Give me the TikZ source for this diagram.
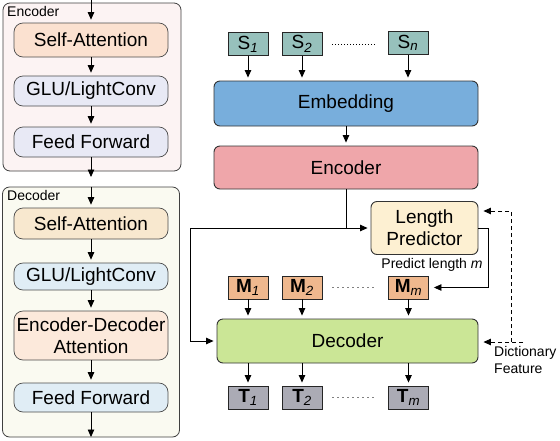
\documentclass[tikz,border=0pt]{standalone}
\usepackage{fontspec}
\setmainfont{Liberation Sans}
\usetikzlibrary{arrows.meta}

\definecolor{encbg}{HTML}{FCF3F3}
\definecolor{decbg}{HTML}{FAFAF1}
\definecolor{peach}{HTML}{FBE1D0}
\definecolor{lavender}{HTML}{E8E9F5}
\definecolor{tan}{HTML}{F8E8CF}
\definecolor{skyblue}{HTML}{E0EDF5}
\definecolor{rosepeach}{HTML}{FCE9DB}
\definecolor{srcfill}{HTML}{97C1BC}
\definecolor{embfill}{HTML}{78AEDC}
\definecolor{encfill}{HTML}{EFA6AA}
\definecolor{lpfill}{HTML}{FDF0D2}
\definecolor{maskfill}{HTML}{EFB88E}
\definecolor{decfill}{HTML}{CBE696}
\definecolor{tgtfill}{HTML}{ABABB5}

\begin{document}
\begin{tikzpicture}[x=1pt, y=-1pt,
  >={Triangle[length=7.5pt,width=6.5pt]},
  panel/.style={draw=black!75, rounded corners=7pt, line width=0.8pt},
  sub/.style={draw=black!70, rounded corners=9pt, line width=0.7pt, minimum width=154pt,
    inner sep=0pt, font=\fontsize{19}{22}\selectfont, align=center},
  blk/.style={draw=black!80, rounded corners=6pt, line width=0.9pt, inner sep=0pt,
    font=\fontsize{19}{22}\selectfont, align=center},
  tok/.style={draw=black!85, line width=0.9pt, minimum width=40pt, minimum height=23pt,
    inner sep=0pt, font=\fontsize{19}{21}\selectfont},
  lbl/.style={font=\fontsize{14}{17}\selectfont, inner sep=0pt, align=left},
  flow/.style={->, line width=0.8pt, shorten >=3pt}]
  \useasboundingbox (0,0) rectangle (560,440);

  % Encoder stack
  \node[panel, fill=encbg, minimum width=178pt, minimum height=168pt] (encpanel) at (92,87) {};
  \node[lbl, anchor=north west] (enclbl) at (7,6) {Encoder};
  \node[sub, fill=peach, minimum height=34pt] (eSA) at (91,40) {Self-Attention};
  \node[sub, fill=lavender, minimum height=30pt] (eGLU) at (91,91) {GLU/LightConv};
  \node[sub, fill=lavender, minimum height=30pt] (eFF) at (91,142) {Feed Forward};

  % Decoder stack
  \node[panel, fill=decbg, minimum width=177pt, minimum height=250pt] (decpanel) at (91,312) {};
  \node[lbl, anchor=north west] (declbl) at (7,190) {Decoder};
  \node[sub, fill=tan, minimum height=31pt] (dSA) at (91,223.5) {Self-Attention};
  \node[sub, fill=skyblue, minimum height=27pt] (dGLU) at (91,276.5) {GLU/LightConv};
  \node[sub, fill=rosepeach, minimum height=49pt] (dEDA) at (91,335.5) {Encoder-Decoder\\Attention};
  \node[sub, fill=skyblue, minimum height=29pt] (dFF) at (91,397.5) {Feed Forward};

  \coordinate (ein) at (91,0);
  \coordinate (ehand) at (91,177);
  \coordinate (dout) at (91,437);
  \draw[flow] (ein) -- (eSA);
  \draw[flow] (eSA) -- (eGLU);
  \draw[flow] (eGLU) -- (eFF);
  \draw[flow, shorten >=0pt] (eFF) -- (ehand);
  \draw[flow] (decpanel.north) -- (dSA);
  \draw[flow] (dSA) -- (dGLU);
  \draw[flow] (dGLU) -- (dEDA);
  \draw[flow] (dEDA) -- (dFF);
  \draw[flow, shorten >=0pt] (dFF) -- (dout);

  % Source tokens
  \node[tok, fill=srcfill] (s1) at (248,44) {S\textsubscript{\itshape 1}};
  \node[tok, fill=srcfill] (s2) at (302,44) {S\textsubscript{\itshape 2}};
  \node[tok, fill=srcfill] (sn) at (408,43) {S\textsubscript{\itshape n}};
  \draw[dotted, line width=1pt] ([xshift=10pt]s2.east) -- ([xshift=-12pt]sn.west |- s2.east);

  % Main blocks
  \node[blk, fill=embfill, minimum width=264pt, minimum height=45pt] (emb) at (346,103.5) {Embedding};
  \node[blk, fill=encfill, minimum width=264pt, minimum height=43pt] (enc) at (346,167.5) {Encoder};
  \node[blk, fill=lpfill, minimum width=107pt, minimum height=53pt] (lp) at (424.5,228) {Length\\Predictor};
  \node[lbl] (plen) at (432,265) {Predict length \textit{m}};
  \node[blk, fill=decfill, minimum width=261pt, minimum height=44pt] (dec) at (347.5,341) {Decoder};

  % Masked and target tokens
  \node[tok, fill=maskfill] (m1) at (248,287.5) {\textbf{M}\textsubscript{\itshape 1}};
  \node[tok, fill=maskfill] (m2) at (302,287.5) {\textbf{M}\textsubscript{\itshape 2}};
  \node[tok, fill=maskfill] (mm) at (408.5,287.5) {\textbf{M}\textsubscript{\itshape m}};
  \node[tok, fill=tgtfill] (t1) at (248,397.5) {\textbf{T}\textsubscript{\itshape 1}};
  \node[tok, fill=tgtfill] (t2) at (302,397.5) {\textbf{T}\textsubscript{\itshape 2}};
  \node[tok, fill=tgtfill] (tm) at (408.5,397.5) {\textbf{T}\textsubscript{\itshape m}};
  \draw[gray, line width=0.6pt, dash pattern=on 2pt off 3pt] ([xshift=10pt]m2.east) -- ([xshift=-12pt]mm.west);
  \draw[gray, line width=0.6pt, dash pattern=on 2pt off 3pt] ([xshift=10pt]t2.east) -- ([xshift=-12pt]tm.west);

  % Arrows
  \foreach \i in {1,2,n}
    \draw[flow] (s\i) -- (s\i |- emb.north);
  \draw[flow] (emb) -- (enc);
  \coordinate (split) at (346,228);
  \coordinate (bypass) at (190,228);
  \coordinate (lpturn) at (488,228);
  \draw[line width=0.8pt] (enc.south) -- (split);
  \draw[flow] (split) -- (lp.west);
  \draw[flow] (split) -- (bypass) |- (dec.west);
  \draw[flow, shorten >=5pt] (lp.east) -- (lpturn) |- (mm.east);
  \foreach \i in {1,2,m}
    \draw[flow] (m\i) -- (m\i |- dec.north);
  \foreach \i in {1,2,m}
    \draw[flow] (t\i |- dec.south) -- (t\i);

  % Dictionary feature
  \coordinate (dict) at (523,342);
  \coordinate (dictup) at (511,342);
  \coordinate (dictbend) at (511,211);
  \node[lbl, anchor=north west] (dictlbl) at (494,346) {Dictionary\\Feature};
  \draw[flow, dash pattern=on 4pt off 3pt, shorten >=5pt] (dict) -- (dec.east |- dict);
  \draw[flow, dash pattern=on 4pt off 3pt, shorten >=5pt] (dictup) -- (dictbend) -- (lp.east |- dictbend);
\end{tikzpicture}
\end{document}
